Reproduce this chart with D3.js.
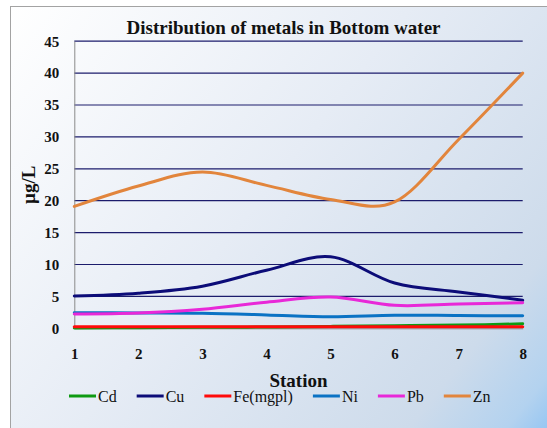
<html lang="en">
<head>
<script src="https://cdnjs.cloudflare.com/ajax/libs/d3/7.8.5/d3.min.js"></script>
<style>
html, body {
  margin: 0;
  padding: 0;
  background: #fff;
}
</style>
</head>
<body>
<svg width="547" height="428"></svg>
<script>
const stations = [1, 2, 3, 4, 5, 6, 7, 8];
const yTicks = [0, 5, 10, 15, 20, 25, 30, 35, 40, 45];

const cd = [0.05, 0.1, 0.15, 0.2, 0.3, 0.4, 0.5, 0.7];
const cu = [5.05, 5.5, 6.6, 9.1, 11.2, 7.1, 5.7, 4.4];
const fe = [0.25, 0.25, 0.25, 0.25, 0.25, 0.25, 0.25, 0.25];
const ni = [2.45, 2.4, 2.35, 2.1, 1.8, 2.05, 2.0, 1.95];
const pb = [2.25, 2.4, 3.0, 4.1, 4.9, 3.6, 3.8, 4.0];
const zn = [19.1, 22.3, 24.5, 22.4, 20.2, 19.8, 29.6, 40];

const seriesNames = ['Cd', 'Cu', 'Fe(mgpl)', 'Ni', 'Pb', 'Zn'];
const seriesValues = [cd, cu, fe, ni, pb, zn];
const seriesColors = ['#0e9a12', '#0c0c78', '#ff0a0a', '#0a72c4', '#e828d8', '#e2853c'];

const serif = '"Liberation Serif", serif';
const svg = d3.select('svg');

// background gradient, white top-left to blue bottom-right
const defs = svg.append('defs');
const grad = defs.append('linearGradient')
  .attr('id', 'bg')
  .attr('gradientUnits', 'userSpaceOnUse')
  .attr('x1', 10).attr('y1', 6)
  .attr('x2', 560).attr('y2', 440);
grad.append('stop').attr('offset', 0).attr('stop-color', '#ffffff');
grad.append('stop').attr('offset', 0.45).attr('stop-color', '#e6ecf5');
grad.append('stop').attr('offset', 0.82).attr('stop-color', '#cddbeb');
grad.append('stop').attr('offset', 0.93).attr('stop-color', '#b3d2ef');
grad.append('stop').attr('offset', 1).attr('stop-color', '#88c0f4');

svg.append('rect')
  .attr('x', 10.5).attr('y', 6.5)
  .attr('width', 600).attr('height', 500)
  .attr('fill', 'url(#bg)')
  .attr('stroke', '#a3a3a3')
  .attr('stroke-width', 1);

const x = d3.scalePoint().domain(stations).range([74.3, 522.7]);
const y = d3.scaleLinear().domain([0, 45]).range([328.3, 41.2]);

// gridlines
svg.append('g')
  .selectAll('line')
  .data(yTicks.filter(d => d > 0))
  .enter()
  .append('line')
  .attr('x1', x(1)).attr('x2', x(8))
  .attr('y1', d => y(d)).attr('y2', d => y(d))
  .attr('stroke', '#1c1c6c')
  .attr('stroke-width', 1.2);

const styleAxis = (g) => {
  g.select('.domain').attr('stroke', '#8a8a8a');
  g.selectAll('.tick text')
    .style('font-family', serif)
    .style('font-size', '15px')
    .style('font-weight', 'bold')
    .attr('fill', '#111');
};

// left axis
svg.append('g')
  .attr('transform', `translate(${x(1)},0)`)
  .call(d3.axisLeft(y).tickValues(yTicks).tickSize(0).tickPadding(15))
  .call(styleAxis);

// bottom axis
svg.append('g')
  .attr('transform', `translate(0,${y(0)})`)
  .call(d3.axisBottom(x).tickSize(0).tickPadding(20))
  .call(styleAxis);

// lines
const line = d3.line()
  .x((d, i) => x(stations[i]))
  .y(d => y(d))
  .curve(d3.curveCardinal.tension(0));

svg.append('g')
  .selectAll('path')
  .data(seriesValues)
  .enter()
  .append('path')
  .attr('d', d => line(d))
  .attr('fill', 'none')
  .attr('stroke', (d, i) => seriesColors[i])
  .attr('stroke-width', 3)
  .attr('stroke-linejoin', 'round')
  .attr('stroke-linecap', 'round');

const label = (txt, size, bold) => svg.append('text')
  .style('font-family', serif)
  .style('font-size', size + 'px')
  .style('font-weight', bold ? 'bold' : 'normal')
  .attr('fill', '#111')
  .text(txt);

// titles
label('Distribution of metals in Bottom water', 19, true)
  .attr('x', 283.5).attr('y', 34)
  .attr('text-anchor', 'middle');

label('µg/L', 19, true)
  .attr('transform', `translate(35,${(y(0) + y(45)) / 2}) rotate(-90)`)
  .attr('text-anchor', 'middle');

label('Station', 19, true)
  .attr('x', (x(1) + x(8)) / 2).attr('y', 387)
  .attr('text-anchor', 'middle');

// legend
let lx = 69;
seriesNames.forEach((name, i) => {
  svg.append('line')
    .attr('x1', lx).attr('x2', lx + 27)
    .attr('y1', 396).attr('y2', 396)
    .attr('stroke', seriesColors[i])
    .attr('stroke-width', 3);
  const t = label(name, 16, false)
    .attr('x', lx + 29).attr('y', 401.5);
  lx += 29 + t.node().getComputedTextLength() + 20;
});
</script>
</body>
</html>
